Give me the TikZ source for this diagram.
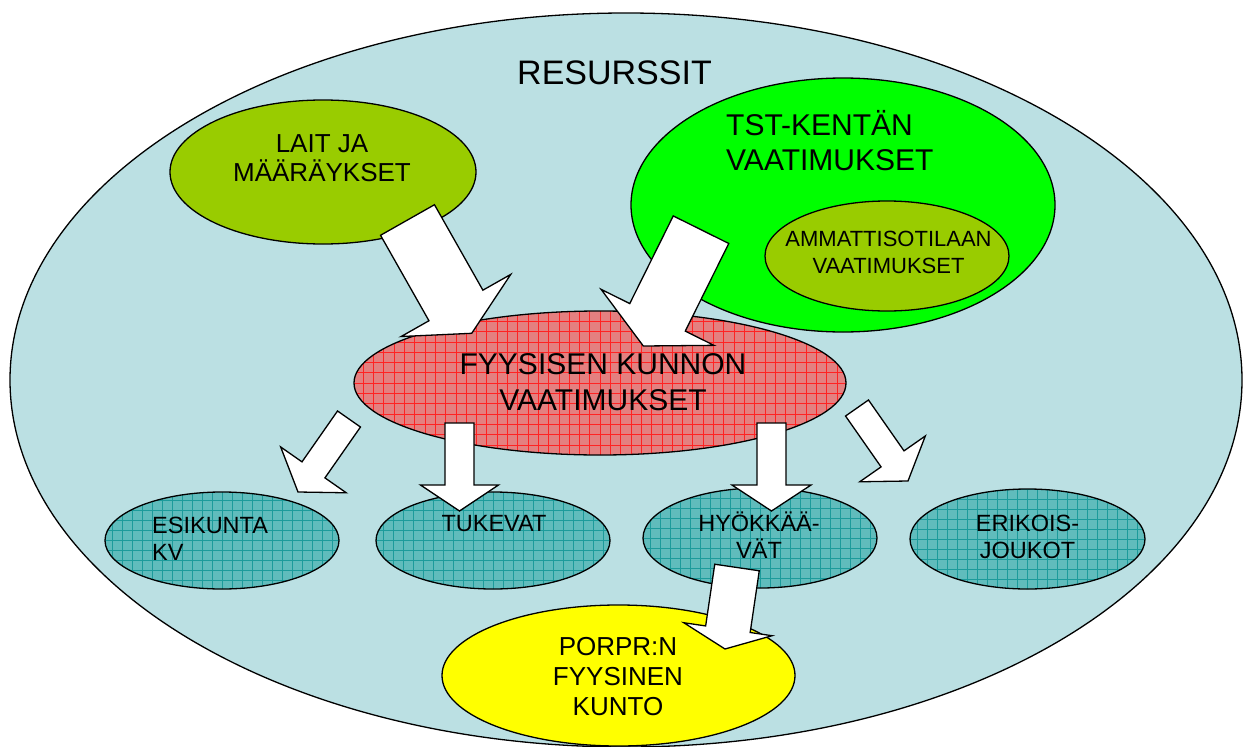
\documentclass[tikz,border=0pt]{standalone}
\usepackage{fontspec}
\setmainfont{Liberation Sans}
\usetikzlibrary{calc,shapes.geometric}
\definecolor{bgblue}{RGB}{187,224,227}
\definecolor{olive}{RGB}{153,204,0}
\definecolor{brightgreen}{RGB}{0,255,0}
\definecolor{yel}{RGB}{255,255,0}
\definecolor{redbase}{RGB}{228,128,128}
\definecolor{redline}{RGB}{255,35,35}
\definecolor{tealbase}{RGB}{96,188,188}
\definecolor{tealline}{RGB}{28,155,155}
\tikzset{
  ell/.style={ellipse, draw=black, line width=1.3pt, inner sep=0pt},
  redpat/.style={fill=redbase, path picture={\draw[redline, line width=0.6pt, step=10.3pt] (path picture bounding box.south west) grid (path picture bounding box.north east);}},
  tealpat/.style={fill=tealbase, path picture={\draw[tealline, line width=0.55pt, step=10pt] (path picture bounding box.south west) grid (path picture bounding box.north east);}},
  txt/.style={inner sep=0pt, align=center, text=black},
  barrow/.style={draw=black, fill=white, line width=1.3pt, line join=miter},
}
\newcommand\blockarr[5]{%
  \coordinate (bn) at ($(#2)!#5!(#1)$);
  \draw[barrow] ($(#1)!#3!90:(#2)$) -- ($(bn)!#3!90:(#2)$) -- ($(bn)!#4!90:(#2)$) -- (#2) -- ($(bn)!#4!-90:(#2)$) -- ($(bn)!#3!-90:(#2)$) -- ($(#1)!#3!-90:(#2)$) -- cycle;}
\begin{document}
\begin{tikzpicture}[x=1pt,y=-1pt]
\useasboundingbox (0,0) rectangle (1248,747);
% ellipses
\node[ell, fill=bgblue, minimum width=1232pt, minimum height=734pt] (res) at (626,380) {};
\node[ell, fill=olive, minimum width=306pt, minimum height=144pt] (lait) at (323,172) {};
\node[ell, fill=brightgreen, minimum width=424pt, minimum height=254pt] (tst) at (843,205) {};
\node[ell, fill=olive, minimum width=244pt, minimum height=110pt] (amm) at (887,256) {};
\node[ell, redpat, minimum width=492pt, minimum height=144pt] (fyy) at (600,383) {};
\node[ell, tealpat, minimum width=234pt, minimum height=97pt] (esi) at (222,540.5) {};
\node[ell, tealpat, minimum width=234pt, minimum height=97pt] (tuk) at (493,540.5) {};
\node[ell, tealpat, minimum width=234pt, minimum height=100pt] (hyo) at (760,538) {};
\node[ell, tealpat, minimum width=235pt, minimum height=100pt] (eri) at (1027.5,539) {};
\node[ell, fill=yel, minimum width=353pt, minimum height=141pt] (por) at (618.5,675.5) {};
% texts
\node[txt, font=\fontsize{34}{40}\selectfont] (tres) at (614.5,72.8) {RESURSSIT};
\node[txt, font=\fontsize{26}{29}\selectfont] (tlait) at (322,158.2) {LAIT JA\\MÄÄRÄYKSET};
\node[txt, align=left, anchor=west, font=\fontsize{30}{35}\selectfont] (ttst) at (726,140.7) {TST-KENTÄN\\VAATIMUKSET};
\node[txt, font=\fontsize{22}{27}\selectfont] (tamm) at (888.5,252.3) {AMMATTISOTILAAN\\VAATIMUKSET};
\node[txt, font=\fontsize{30}{36}\selectfont] (tfyy) at (603,382.3) {FYYSISEN KUNNON\\VAATIMUKSET};
\node[txt, align=left, anchor=west, font=\fontsize{23.5}{27}\selectfont] (tesi) at (152,539.1) {ESIKUNTA\\KV};
\node[txt, font=\fontsize{23.5}{27}\selectfont] (ttuk) at (494,523.3) {TUKEVAT};
\node[txt, font=\fontsize{23.5}{27}\selectfont] (thyo) at (759,535) {HYÖKKÄÄ-\\VÄT};
\node[txt, font=\fontsize{23.5}{27}\selectfont] (teri) at (1027.5,537) {ERIKOIS-\\JOUKOT};
\node[txt, font=\fontsize{26}{30}\selectfont] (tpor) at (618,676.5) {PORPR:N\\FYYSINEN\\KUNTO};
% arrow end points
\coordinate (a1t) at (407.5,220);   \coordinate (a1h) at (471.7,333.3);
\coordinate (a2t) at (701,229.7);   \coordinate (a2h) at (643.3,346);
\coordinate (a3t) at (349,419);     \coordinate (a3h) at (298,492);
\coordinate (a4t) at (459.5,423);   \coordinate (a4h) at (459.5,511);
\coordinate (a5t) at (771.5,423);   \coordinate (a5h) at (771.5,511);
\coordinate (a6t) at (857,408);     \coordinate (a6h) at (908,481);
\coordinate (a7t) at (737,567.5);   \coordinate (a7h) at (725,649);
\blockarr{a1t}{a1h}{31pt}{63pt}{32pt}
\blockarr{a2t}{a2h}{31pt}{63pt}{32pt}
\blockarr{a3t}{a3h}{14pt}{40pt}{27pt}
\blockarr{a4t}{a4h}{14.5pt}{39pt}{26pt}
\blockarr{a5t}{a5h}{14.5pt}{39.5pt}{26pt}
\blockarr{a6t}{a6h}{14pt}{40pt}{27pt}
\blockarr{a7t}{a7h}{22.5pt}{44.6pt}{20pt}
\end{tikzpicture}
\end{document}
